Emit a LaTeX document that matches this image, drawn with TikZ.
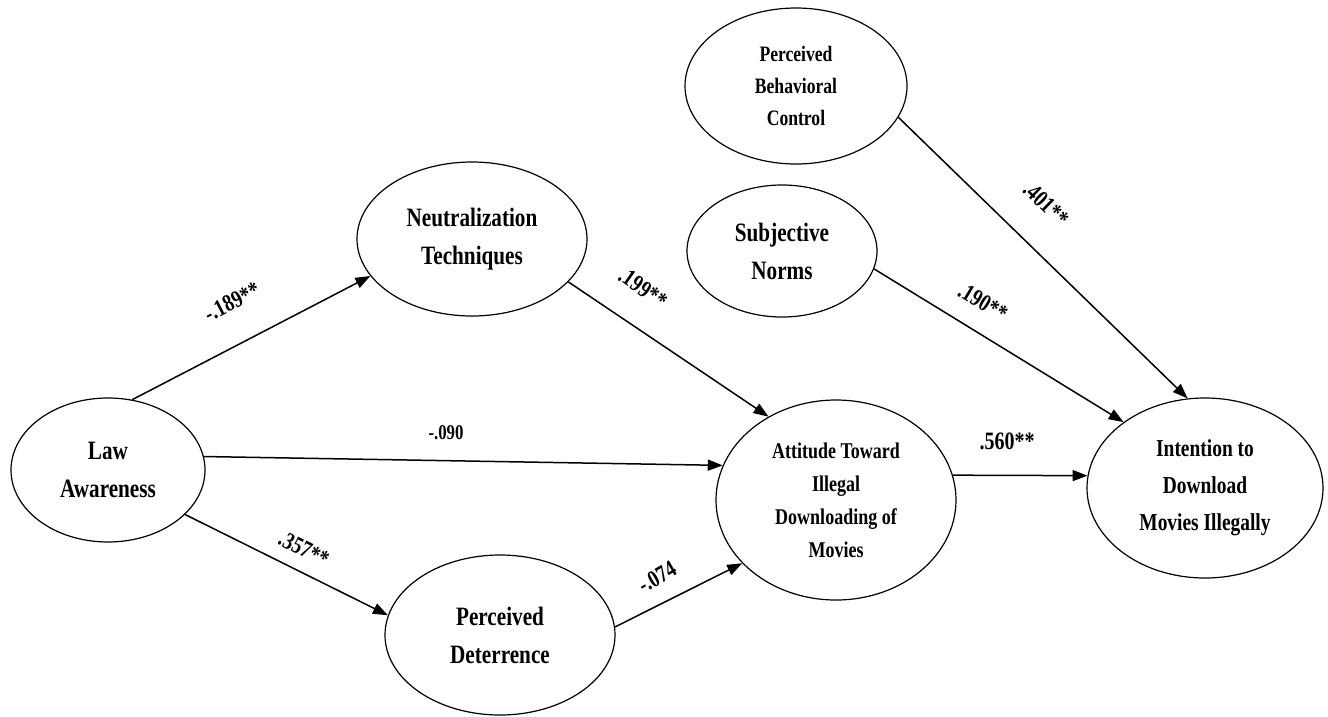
\documentclass[tikz,border=0pt]{standalone}
\usepackage{fontspec}
\usetikzlibrary{arrows.meta,shapes.geometric}
\newfontfamily\nodefont[FakeStretch=0.8]{Liberation Serif}
\newfontfamily\labfont[FakeStretch=0.8]{Liberation Serif}
\tikzset{
  latent/.style={draw, ellipse, line width=1.2pt, inner sep=0pt, align=center,
    font=\nodefont\bfseries\fontsize{26.5}{38}\selectfont},
  conn/.style={line width=1.5pt, -{Triangle[length=15pt,width=11pt]}},
  lab/.style={font=\labfont\bfseries\fontsize{24}{24}\selectfont, inner sep=0pt}
}
\begin{document}
\begin{tikzpicture}[x=1pt,y=1pt]
\useasboundingbox (0,0) rectangle (1328,-716);
\node[latent, minimum width=194pt, minimum height=144pt] (law) at (108,-470) {Law\\Awareness};
\node[latent, minimum width=230pt, minimum height=154pt] (neu) at (472,-239) {Neutralization\\Techniques};
\node[latent, minimum width=230pt, minimum height=160pt] (det) at (500,-635) {Perceived\\Deterrence};
\node[latent, minimum width=240pt, minimum height=200pt,
  font=\nodefont\bfseries\fontsize{22.5}{33}\selectfont] (att) at (836,-500) {Attitude Toward\\Illegal\\Downloading of\\Movies};
\node[latent, minimum width=222pt, minimum height=156pt,
  font=\nodefont\bfseries\fontsize{22}{32}\selectfont] (pbc) at (796,-86) {Perceived\\Behavioral\\Control};
\node[latent, minimum width=190pt, minimum height=132pt] (sn) at (782,-251) {Subjective\\Norms};
\node[latent, minimum width=236pt, minimum height=180pt,
  font=\nodefont\bfseries\fontsize{24.3}{37}\selectfont] (int) at (1205,-488) {Intention to\\Download\\Movies Illegally};

\draw[conn] (law.71) -- (neu.200);
\draw[conn] (law.8) -- (att.163);
\draw[conn] (law.-30) -- (det.170);
\draw[conn] (neu.-24) -- (att.129);
\draw[conn] (det.4) -- (att.214);
\draw[conn] (att.12) -- (int.174);
\draw[conn] (sn.-11) -- (int.141);
\draw[conn] (pbc.-17) -- (int.101);

\node[lab, rotate=27] (l189) at (232,-302) {-.189**};
\node[lab, rotate=-35] (l199) at (643,-288) {.199**};
\node[lab, font=\labfont\bfseries\fontsize{21}{21}\selectfont] (l090) at (446,-433) {-.090};
\node[lab, rotate=-27] (l357) at (304,-549) {.357**};
\node[lab, rotate=30] (l074) at (657,-577) {-.074};
\node[lab, font=\labfont\bfseries\fontsize{25}{25}\selectfont] (l560) at (1007,-441) {.560**};
\node[lab, rotate=-31] (l190) at (983,-302) {.190**};
\node[lab, rotate=-44] (l401) at (1046,-204) {.401**};
\end{tikzpicture}
\end{document}
